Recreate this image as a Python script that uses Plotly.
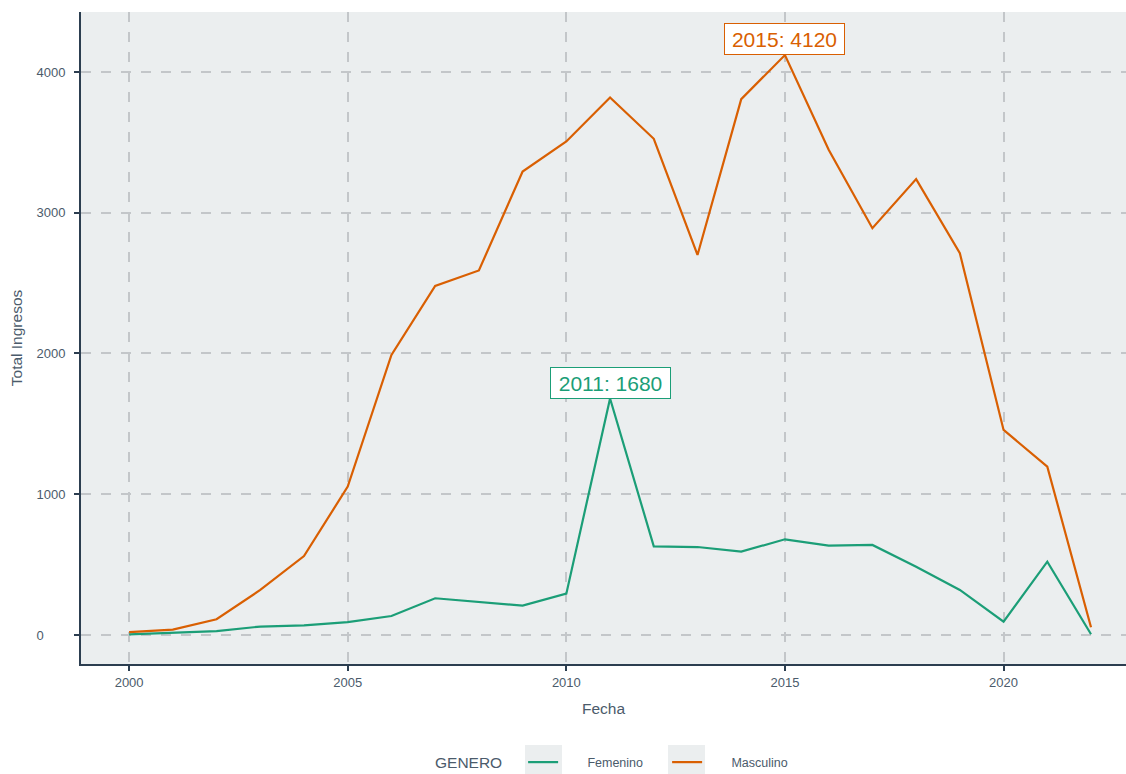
import plotly.graph_objects as go

years = list(range(2000, 2023))
femenino = [5, 15, 28, 60, 69, 92, 135, 261, 237, 209, 294, 1680, 630, 625, 592, 680,
            635, 640, 485, 320, 95, 521, 5]
masculino = [20, 38, 112, 320, 561, 1054, 1990, 2480, 2590, 3293, 3506, 3819, 3525, 2700,
             3807, 4120, 3447, 2890, 3239, 2712, 1457, 1196, 55]
series_names = ["Femenino", "Masculino"]
y_ticks = [0, 1000, 2000, 3000, 4000]
x_ticks = [2000, 2005, 2010, 2015, 2020]

GREEN = "#1b9e77"
ORANGE = "#d95f02"
TEXT = "#4b5b6b"
AXIS = "#2c3e50"
GRID = "#c3c6c9"
PANEL = "#ebeeef"
FONT = "Liberation Sans, Arial, sans-serif"
PAD = "\u00a0" * 7

fig = go.Figure()
fig.add_trace(go.Scatter(x=years, y=femenino, mode="lines", name=PAD + series_names[0],
                         line=dict(color=GREEN, width=2.2)))
fig.add_trace(go.Scatter(x=years, y=masculino, mode="lines", name=PAD + series_names[1],
                         line=dict(color=ORANGE, width=2.2)))

# peak labels
fi = femenino.index(max(femenino))
mi = masculino.index(max(masculino))
for yr, val, col in [(years[fi], femenino[fi], GREEN), (years[mi], masculino[mi], ORANGE)]:
    fig.add_annotation(x=yr, y=val, text=f"{yr}: {val}", showarrow=False,
                       yanchor="bottom", font=dict(size=21, color=col, family=FONT),
                       width=115, height=26, align="center",
                       bgcolor="white", bordercolor=col, borderwidth=1, borderpad=2)

# legend key backgrounds (paper coords)
PW, PH, PL, PB = 1045.0, 652.0, 81.0, 664.0
for x0p, x1p in [(525, 562), (668, 705)]:
    fig.add_shape(type="rect", xref="paper", yref="paper", layer="below",
                  x0=(x0p - PL) / PW, x1=(x1p - PL) / PW,
                  y0=(PB - 745) / PH, y1=(PB - 780) / PH,
                  fillcolor=PANEL, line=dict(width=0))

# left-aligned y tick labels (pad with figure spaces)
width = max(len(str(v)) for v in y_ticks)
y_text = [str(v) + "\u2007" * (width - len(str(v))) for v in y_ticks]

fig.update_layout(
    width=1126, height=774, autosize=False,
    margin=dict(l=81, r=0, t=12, b=110, autoexpand=False),
    paper_bgcolor="white",
    plot_bgcolor=PANEL,
    font=dict(family=FONT, color=TEXT, size=12),
    showlegend=True,
    legend=dict(orientation="h", x=(433 - PL) / PW, xanchor="left",
                y=(PB - 763) / PH, yanchor="middle",
                title=dict(text="GENERO" + "\u00a0" * 3, font=dict(size=15.5, color=TEXT)),
                font=dict(size=12.5, color=TEXT), itemwidth=30,
                entrywidth=99, entrywidthmode="pixels",
                bgcolor="rgba(0,0,0,0)"),
    xaxis=dict(range=[1998.9, 2022.8], tickvals=x_ticks,
               automargin=False,
               showgrid=True, gridcolor=GRID, griddash="10px,10px", gridwidth=2,
               showline=True, linecolor=AXIS, linewidth=2,
               ticks="outside", ticklen=5, tickwidth=2, tickcolor=AXIS,
               zeroline=False, tickfont=dict(size=13, color=TEXT),
               title=dict(text="Fecha", font=dict(size=15.5, color=TEXT), standoff=15)),
    yaxis=dict(range=[-206, 4426], tickvals=y_ticks, ticktext=y_text,
               automargin=False, ticklabelstandoff=6,
               showgrid=True, gridcolor=GRID, griddash="10px,10px", gridwidth=2,
               showline=True, linecolor=AXIS, linewidth=2,
               ticks="outside", ticklen=5, tickwidth=2, tickcolor=AXIS,
               zeroline=False, tickfont=dict(size=13, color=TEXT),
               title=dict(text="Total Ingresos", font=dict(size=15.5, color=TEXT), standoff=10)),
)

fig.write_html("out.html", config={"responsive": False, "displayModeBar": False},
               post_script="document.body.style.margin='0';document.body.style.overflow='hidden';")
